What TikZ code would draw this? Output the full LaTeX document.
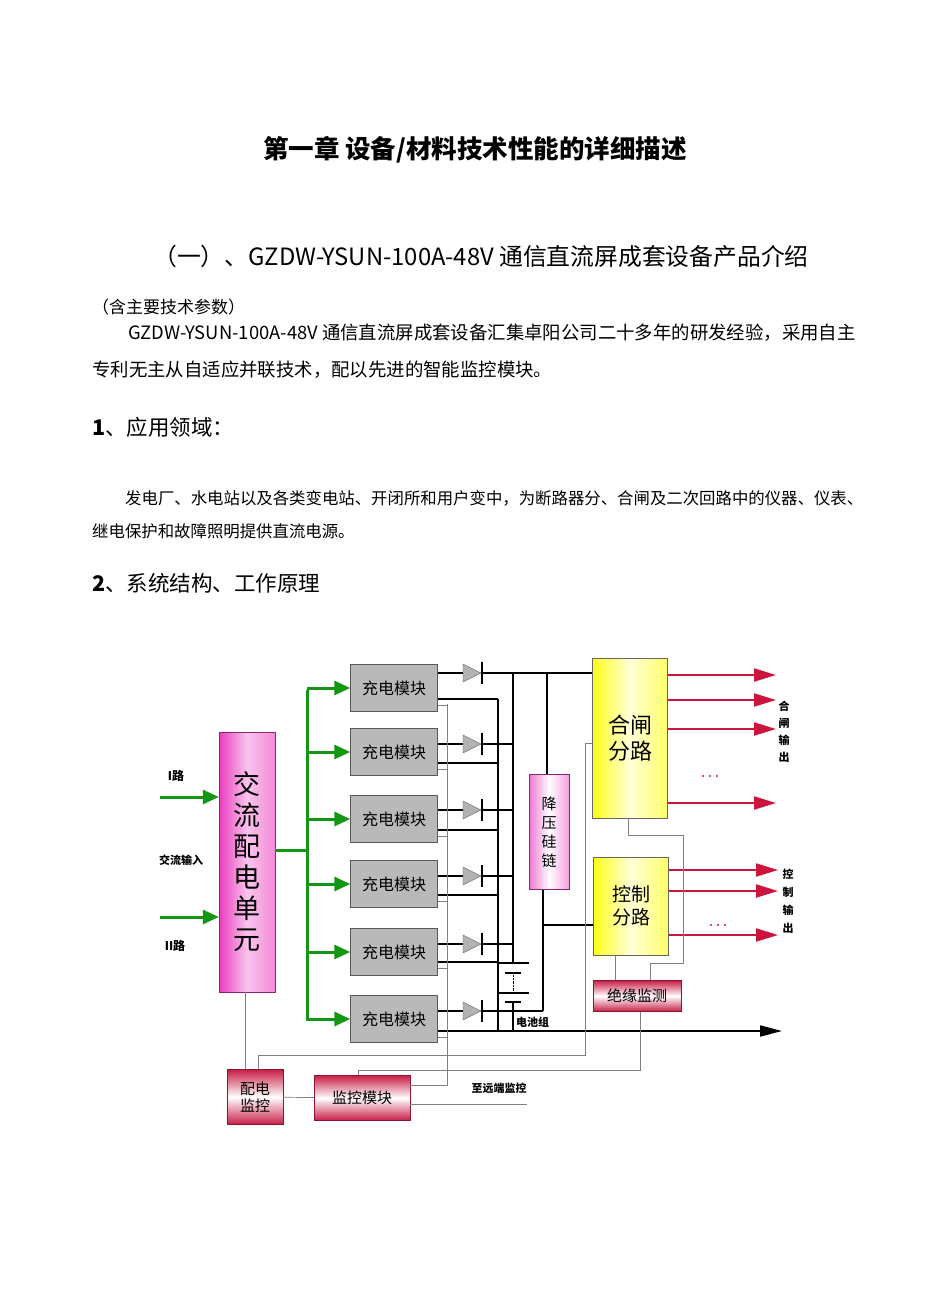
\documentclass[tikz,border=0pt]{standalone}
\usepackage{fontspec}
\setmainfont{Noto Sans CJK SC}
\usetikzlibrary{arrows.meta}
\definecolor{gr}{RGB}{20,150,20}
\definecolor{rd}{RGB}{205,20,60}
\definecolor{mg}{RGB}{235,60,190}
\definecolor{crim}{RGB}{200,30,70}
\tikzset{
 modbox/.style={draw=gray!70!black,fill=gray!55,minimum width=87pt,minimum height=47pt,inner sep=0pt,font=\fontsize{16}{16}\selectfont},
 grarr/.style={gr,line width=3pt,-{Triangle[length=16pt,width=14pt]}},
 rdarr/.style={rd,line width=2pt,-{Triangle[length=22pt,width=13pt]}},
 bl/.style={black,line width=1.8pt},
 gl/.style={gray,line width=0.7pt},
 redbox/.style={draw=crim!70!black,top color=crim,bottom color=crim,middle color=white,inner sep=0pt},
 yelbox/.style={draw=black!60,left color=yellow!90,right color=yellow!60,middle color=yellow!15,inner sep=0pt},
 txt/.style={anchor=west,inner sep=0pt},
}
\newcommand{\mydiode}[2]{%
 \fill[gray!60,draw=gray!70!black] (#1,#2-9) -- (#1+18,#2) -- (#1,#2+9) -- cycle;
 \draw[bl] (#1+19,#2-11) -- (#1+19,#2+11);}
\begin{document}
\begin{tikzpicture}[x=1pt,y=-1pt]
\useasboundingbox (0,0) rectangle (950,1290);
% texts
\node[font=\fontsize{25.5}{26}\selectfont\bfseries] (t1) at (475,150) {第一章\ 设备/材料技术性能的详细描述};
\node[font=\fontsize{23.8}{24}\selectfont] (t2) at (481,256) {（一）、GZDW-YSUN-100A-48V 通信直流屏成套设备产品介绍};
\node[txt,font=\fontsize{17}{17}\selectfont] (p0) at (92,307) {（含主要技术参数）};
\node[txt,font=\fontsize{18.4}{18}\selectfont] (p1) at (128,333) {GZDW-YSUN-100A-48V 通信直流屏成套设备汇集卓阳公司二十多年的研发经验，采用自主};
\node[txt,font=\fontsize{18.4}{18}\selectfont] (p2) at (92,370) {专利无主从自适应并联技术，配以先进的智能监控模块。};
\node[txt,font=\fontsize{21.5}{21}\selectfont] (h1) at (92,427) {\textbf{1}、应用领域：};
\node[txt,font=\fontsize{16.4}{16}\selectfont] (p3) at (125,498) {发电厂、水电站以及各类变电站、开闭所和用户变中，为断路器分、合闸及二次回路中的仪器、仪表、};
\node[txt,font=\fontsize{16.4}{16}\selectfont] (p4) at (92,531) {继电保护和故障照明提供直流电源。};
\node[txt,font=\fontsize{21.5}{21}\selectfont] (h2) at (92,583) {\textbf{2}、系统结构、工作原理};
% AC unit
\node[draw=mg!60!black,left color=mg,right color=mg!60,middle color=white!70!mg,minimum width=56pt,minimum height=260pt,inner sep=0pt,align=center,font=\fontsize{27}{31}\selectfont] (ac) at (247,862) {交\\流\\配\\电\\单\\元};
\coordinate (i1) at (160,797); \coordinate (i2) at (160,917);
\draw[grarr] (i1) -- (i1 -| ac.west);
\draw[grarr] (i2) -- (i2 -| ac.west);
\node[font=\fontsize{12}{12}\selectfont\bfseries] (l1) at (176,776) {I路};
\node[font=\fontsize{11}{11}\selectfont\bfseries] (l2) at (181,860) {交流输入};
\node[font=\fontsize{12}{12}\selectfont\bfseries] (l3) at (175,946) {II路};
% modules
\foreach \i/\y in {1/688,2/752,3/819,4/884,5/952,6/1019}{
 \node[modbox] (m\i) at (394,\y) {充电模块};
}
\coordinate (gb) at (307,850);
\draw[gr,line width=3pt] (ac.east |- gb) -- (gb);
\draw[gr,line width=3pt] (307,690) -- (307,1021);
\foreach \i in {1,...,6}{\draw[grarr] (307,0 |- m\i) -- (m\i.west);}
% rails
\draw[bl] (498,699) -- (498,1031);
\draw[bl] (513,673) -- (513,963);
\draw[bl] (513,1002) -- (513,1031);
\draw[bl] (497,963) -- (529,963); \draw[bl] (505,973) -- (521,973);
\draw[black,densely dotted] (513,975) -- (513,993);
\draw[bl] (497,993) -- (529,993); \draw[bl] (505,1002) -- (521,1002);
\node[txt,font=\fontsize{11}{11}\selectfont\bfseries] (bat) at (516,1022) {电池组};
% module outputs
\foreach \i/\u/\l in {1/673/699,2/744/763,3/810/830,4/876/895,5/944/962,6/1011/1031}{
 \draw[bl] (m\i.east |- 0,\u) -- (463,\u);
 \mydiode{463}{\u}
 \draw[gl] (m\i.east |- 0,\l+6) -- (447,\l+6);
}
\foreach \i/\u/\l in {2/744/763,3/810/830,4/876/895,5/944/962}{
 \draw[bl] (482,\u) -- (513,\u);
 \draw[bl] (m\i.east |- 0,\l) -- (498,\l);
}
\draw[bl] (m1.east |- 0,699) -- (498,699);
\draw[bl] (482,1011) -- (543,1011);
% step-down
\node[draw=mg!60!black,left color=mg!70,right color=mg!50,middle color=white,minimum width=40pt,minimum height=115pt,inner sep=0pt,align=center,font=\fontsize{15}{19}\selectfont] (sd) at (549,832) {降\\压\\硅\\链};
% branches
\node[yelbox,minimum width=75pt,minimum height=160pt,align=center,font=\fontsize{22}{26}\selectfont] (hz) at (630,738) {合闸\\分路};
\node[yelbox,minimum width=75pt,minimum height=98pt,align=center,font=\fontsize{19}{23}\selectfont] (kz) at (631,906) {控制\\分路};
\draw[bl] (482,673) -- (hz.west |- 0,673);
\draw[bl] (547,673) -- (sd.north -| 547,0);
\draw[bl] (543,0 |- sd.south) -- (543,1011);
\draw[bl] (543,925) -- (kz.west |- 0,925);
% bottom bus
\draw[bl,-{Triangle[length=22pt,width=11pt]}] (m6.east |- 0,1031) -- (782,1031);
% red arrows
\foreach \y in {675,700,729,803}{\draw[rdarr] (hz.east |- 0,\y) -- (776,\y);}
\foreach \y in {870,891,935}{\draw[rdarr] (kz.east |- 0,\y) -- (778,\y);}
\foreach \n/\x/\y in {d1/710/776,d2/718/925}{
 \node[inner sep=0pt] (\n) at (\x,\y) {};
 \foreach \k in {-7,0,7}{\fill[rd] (\x+\k,\y) circle (1.2pt);}
}
\node[align=center,font=\fontsize{11}{17}\selectfont\bfseries] (o1) at (784,732) {合\\闸\\输\\出};
\node[align=center,font=\fontsize{11}{18}\selectfont\bfseries] (o2) at (788,901) {控\\制\\输\\出};
% insulation
\node[redbox,minimum width=88pt,minimum height=31pt,font=\fontsize{15}{15}\selectfont] (ins) at (637,996) {绝缘监测};
\draw[gl] (615,0 |- kz.south) -- (615,0 |- ins.north);
\draw[gl] (650,0 |- ins.north) -- (650,963) -- (683,963) -- (683,835) -- (628,835) -- (628,0 |- hz.south);
% monitors
\node[redbox,minimum width=56pt,minimum height=55pt,align=center,font=\fontsize{15}{17}\selectfont] (pd) at (255,1097) {配电\\监控};
\node[redbox,minimum width=96pt,minimum height=45pt,font=\fontsize{15}{15}\selectfont] (jk) at (362,1098) {监控模块};
\draw[gl] (pd) -- (jk);
\draw[gl] (245,0 |- ac.south) -- (245,0 |- pd.north);
\draw[gl] (hz.west |- 0,743) -- (585,743) -- (585,1055) -- (258,1055) -- (258,0 |- pd.north);
\draw[gl] (640,0 |- ins.south) -- (640,1070) -- (358,1070) -- (358,0 |- jk.north);
\draw[gl] (447,704) -- (447,1085) -- (jk.east |- 0,1085);
\coordinate (rem) at (527,1104);
\draw[gl] (jk.east |- rem) -- (rem);
\node[font=\fontsize{11}{11}\selectfont\bfseries] (rl) at (499,1088) {至远端监控};
\end{tikzpicture}
\end{document}
